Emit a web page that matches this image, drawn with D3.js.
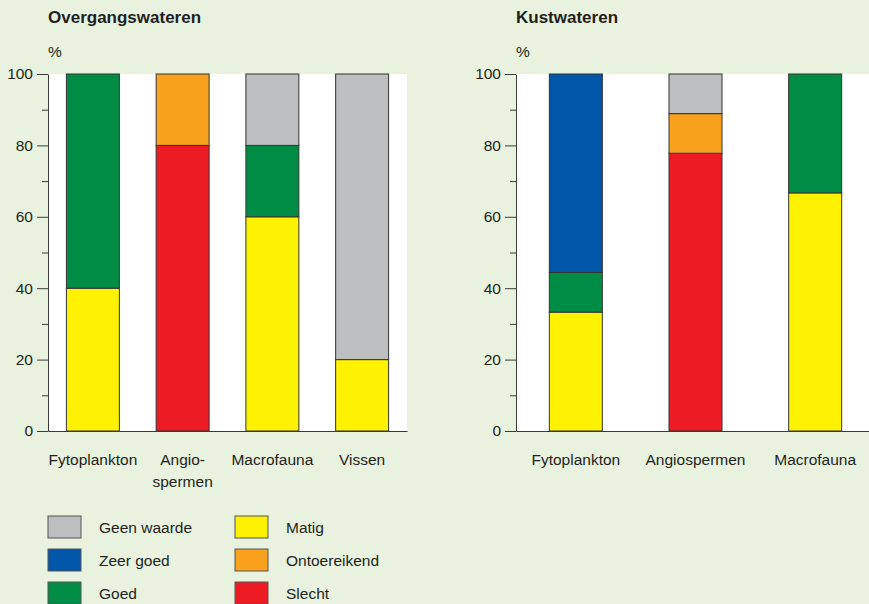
<!DOCTYPE html>
<html>
<head>
<meta charset="utf-8">
<script src="https://cdn.jsdelivr.net/npm/d3@7"></script>
<style>
  body { margin: 0; background: #e8f2de; }
  svg { display: block; font-family: "Liberation Sans", Arial, sans-serif; }
  .axis text { font-size: 15.5px; fill: #231f20; }
  .axis path, .axis line { stroke: #3a3a3a; }
</style>
</head>
<body>
<div id="chart"></div>
<script>
const width = 869, height = 604;

// status classes, bottom to top in each stacked bar
const statuses = ["Slecht", "Ontoereikend", "Matig", "Goed", "Zeer goed", "Geen waarde"];
const statusColors = ["#ed1c24", "#f7a11d", "#fff200", "#008c44", "#0057a8", "#bcbec0"];

// Overgangswateren
const overgangCategories = ["Fytoplankton", "Angiospermen", "Macrofauna", "Vissen"];
const overgangLabels = ["Fytoplankton", "Angio-\nspermen", "Macrofauna", "Vissen"];
const overgangSlecht       = [0, 80, 0, 0];
const overgangOntoereikend = [0, 20, 0, 0];
const overgangMatig        = [40, 0, 60, 20];
const overgangGoed         = [60, 0, 20, 0];
const overgangZeerGoed     = [0, 0, 0, 0];
const overgangGeenWaarde   = [0, 0, 20, 80];

// Kustwateren
const kustCategories = ["Fytoplankton", "Angiospermen", "Macrofauna"];
const kustLabels = ["Fytoplankton", "Angiospermen", "Macrofauna"];
const kustSlecht       = [0, 77.8, 0];
const kustOntoereikend = [0, 11.1, 0];
const kustMatig        = [33.3, 0, 66.7];
const kustGoed         = [11.1, 0, 33.3];
const kustZeerGoed     = [55.6, 0, 0];
const kustGeenWaarde   = [0, 11.1, 0];

const yTicks = [0, 20, 40, 60, 80, 100];
const yMinorTicks = [10, 30, 50, 70, 90];

// legend layout: two columns
const legendColumns = [["Geen waarde", "Zeer goed", "Goed"], ["Matig", "Ontoereikend", "Slecht"]];

const svg = d3.select("#chart").append("svg")
    .attr("width", width)
    .attr("height", height);

svg.append("rect")
    .attr("width", width)
    .attr("height", height)
    .attr("fill", "#e8f2de");

const color = d3.scaleOrdinal().domain(statuses).range(statusColors);
const y = d3.scaleLinear().domain([0, 100]).range([431, 74]);

function drawPanel(left, right, title, categories, labels, series, paddingInner) {
    const g = svg.append("g");

    const x = d3.scaleBand()
        .domain(categories)
        .range([left, right])
        .paddingInner(paddingInner)
        .paddingOuter(paddingInner / 2);

    // white plot area
    g.append("rect")
        .attr("x", left)
        .attr("y", y(100))
        .attr("width", right - left)
        .attr("height", y(0) - y(100))
        .attr("fill", "#fff");

    g.append("text")
        .attr("x", left)
        .attr("y", 23)
        .attr("font-size", 17)
        .attr("font-weight", "bold")
        .attr("fill", "#231f20")
        .text(title);

    g.append("text")
        .attr("x", left)
        .attr("y", 57)
        .attr("font-size", 15.5)
        .attr("fill", "#231f20")
        .text("%");

    // rows -> stacked layers
    const rows = categories.map(function(c, i) {
        const row = { category: c };
        statuses.forEach(function(s, j) { row[s] = series[j][i]; });
        return row;
    });
    const stacked = d3.stack().keys(statuses)(rows);

    g.selectAll(".layer")
        .data(stacked)
        .enter().append("g")
            .attr("class", "layer")
            .attr("fill", function(d) { return color(d.key); })
        .selectAll("rect")
        .data(function(d) { return d.filter(function(e) { return e[1] - e[0] > 0; }); })
        .enter().append("rect")
            .attr("x", function(d) { return x(d.data.category); })
            .attr("y", function(d) { return y(d[1]); })
            .attr("width", x.bandwidth())
            .attr("height", function(d) { return y(d[0]) - y(d[1]); })
            .attr("stroke", "#333")
            .attr("stroke-width", 1);

    // minor ticks
    g.append("g")
        .attr("class", "axis")
        .attr("transform", "translate(" + left + ",0)")
        .call(d3.axisLeft(y).tickValues(yMinorTicks).tickSize(6).tickFormat(""))
        .call(function(a) { a.select(".domain").remove(); });

    // major ticks + labels
    g.append("g")
        .attr("class", "axis")
        .attr("transform", "translate(" + left + ",0)")
        .call(d3.axisLeft(y).tickValues(yTicks).tickSize(11).tickSizeOuter(0).tickPadding(4));

    // category axis
    const xAxis = g.append("g")
        .attr("class", "axis")
        .attr("transform", "translate(0," + y(0) + ")")
        .call(d3.axisBottom(x).tickSize(0).tickSizeOuter(0).tickPadding(23));

    xAxis.select(".domain").attr("stroke", "#555");
    xAxis.selectAll(".tick text").each(function(d, i) {
        const lines = labels[i].split("\n");
        const t = d3.select(this).text(null);
        lines.forEach(function(line, k) {
            t.append("tspan")
                .attr("x", 0)
                .attr("dy", k === 0 ? "0.71em" : "1.4em")
                .text(line);
        });
        t.attr("dy", null);
    });
}

drawPanel(48, 407, "Overgangswateren", overgangCategories, overgangLabels,
    [overgangSlecht, overgangOntoereikend, overgangMatig, overgangGoed, overgangZeerGoed, overgangGeenWaarde], 0.41);

drawPanel(516, 875, "Kustwateren", kustCategories, kustLabels,
    [kustSlecht, kustOntoereikend, kustMatig, kustGoed, kustZeerGoed, kustGeenWaarde], 0.557);

// legend
const legend = svg.append("g").attr("transform", "translate(48, 516)");
legendColumns.forEach(function(col, ci) {
    const items = legend.append("g")
        .attr("transform", "translate(" + (ci * 187) + ",0)")
        .selectAll("g")
        .data(col)
        .enter().append("g")
            .attr("transform", function(d, i) { return "translate(0," + (i * 33) + ")"; });

    items.append("rect")
        .attr("width", 33)
        .attr("height", 22)
        .attr("fill", function(d) { return color(d); })
        .attr("stroke", "#555");

    items.append("text")
        .attr("x", 51)
        .attr("y", 17)
        .attr("font-size", 15.5)
        .attr("fill", "#231f20")
        .text(function(d) { return d; });
});
</script>
</body>
</html>
